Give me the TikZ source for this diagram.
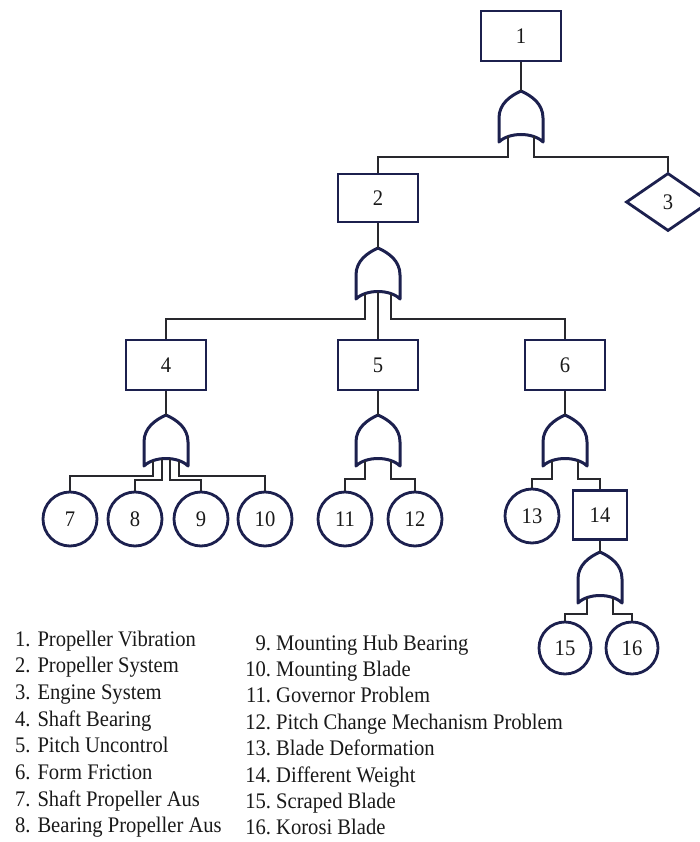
\documentclass[tikz,border=0pt]{standalone}
\usepackage{fontspec}
\setmainfont{Liberation Serif}
\usetikzlibrary{shapes.geometric}
\definecolor{navy}{RGB}{28,32,78}
\definecolor{conncol}{RGB}{40,40,45}
\definecolor{txt}{RGB}{25,25,25}
\newcommand{\tall}[1]{\scalebox{1}[1.08]{#1}}
\begin{document}
\begin{tikzpicture}[x=1pt,y=-1pt,
  lab/.style={font=\fontsize{20.6}{24}\selectfont, text=txt},
  box/.style={lab, draw=navy, line width=2.8pt, minimum width=80pt, minimum height=50pt, inner sep=0pt},
  evt/.style={lab, draw=navy, line width=2.8pt, circle, minimum size=54pt, inner sep=0pt},
  dia/.style={lab, draw=navy, line width=2.8pt, diamond, minimum width=84pt, minimum height=58pt, inner sep=0pt},
  conn/.style={draw=conncol, line width=2pt},
  legend/.style={lab, anchor=base west, inner sep=0pt},
  orgate/.pic={
    \draw[draw=navy, line width=3pt, line join=round]
      (-22,51) -- (-22,27) .. controls (-22,13) and (-11,5) .. (0,0)
      .. controls (11,5) and (22,13) .. (22,27) -- (22,51)
      .. controls (12,41) and (-12,41) .. (-22,51) -- cycle;
    \coordinate (-top) at (0,0);
    \coordinate (-a) at (-13,45.5);
    \coordinate (-d) at (-4,43.8);
    \coordinate (-c) at (0,43.5);
    \coordinate (-e) at (4,43.8);
    \coordinate (-b) at (13,45.5);
  }]
\useasboundingbox (0,0) rectangle (700,842);

% events
\node[box] (b1) at (521,36) {\tall{1}};
\node[box, minimum height=48pt] (b2) at (378,198) {\tall{2}};
\node[dia] (d3) at (668,202) {\tall{3}};
\node[box] (b4) at (166,365) {\tall{4}};
\node[box] (b5) at (378,365) {\tall{5}};
\node[box] (b6) at (565,365) {\tall{6}};
\node[evt] (c7) at (70,519) {\tall{7}};
\node[evt] (c8) at (135,519) {\tall{8}};
\node[evt] (c9) at (201,519) {\tall{9}};
\node[evt] (c10) at (265,519) {\tall{10}};
\node[evt] (c11) at (345,519) {\tall{11}};
\node[evt] (c12) at (415,519) {\tall{12}};
\node[evt] (c13) at (532,516) {\tall{13}};
\node[box, minimum width=54pt, minimum height=49pt] (b14) at (600,515) {\tall{14}};
\node[evt, minimum size=52pt] (c15) at (565,648) {\tall{15}};
\node[evt, minimum size=52pt] (c16) at (632,648) {\tall{16}};

% gates
\pic (g1) at (521,91) {orgate};
\pic (g2) at (378,248) {orgate};
\pic (g4) at (166,415) {orgate};
\pic (g5) at (378,415) {orgate};
\pic (g6) at (565,415) {orgate};
\pic (g14) at (600,552) {orgate};

% connectors
\draw[conn] (b1.south) -- (g1-top);
\draw[conn] (g1-a) -- ++(0,20.5) -| (b2.north);
\draw[conn] (g1-b) -- ++(0,20.5) -| (d3.north);

\draw[conn] (b2.south) -- (g2-top);
\draw[conn] (g2-a) -- ++(0,25.5) -| (b4.north);
\draw[conn] (g2-c) -- (b5.north);
\draw[conn] (g2-b) -- ++(0,25.5) -| (b6.north);

\draw[conn] (b4.south) -- (g4-top);
\draw[conn] (g4-a) -- ++(0,15.5) -| (c7.north);
\draw[conn] (g4-d) -- ++(0,21.2) -| (c8.north);
\draw[conn] (g4-e) -- ++(0,21.2) -| (c9.north);
\draw[conn] (g4-b) -- ++(0,15.5) -| (c10.north);

\draw[conn] (b5.south) -- (g5-top);
\draw[conn] (g5-a) -- ++(0,18.5) -| (c11.north);
\draw[conn] (g5-b) -- ++(0,18.5) -| (c12.north);

\draw[conn] (b6.south) -- (g6-top);
\draw[conn] (g6-a) -- ++(0,18.5) -| (c13.north);
\draw[conn] (g6-b) -- ++(0,18.5) -| (b14.north);

\draw[conn] (b14.south) -- (g14-top);
\draw[conn] (g14-a) -- ++(0,16.5) -| (c15.north);
\draw[conn] (g14-b) -- ++(0,16.5) -| (c16.north);

% legend
\node[legend] (l1) at (15,646) {\tall{1. Propeller Vibration}};
\node[legend] (l2) at (15,672.7) {\tall{2. Propeller System}};
\node[legend] (l3) at (15,699.4) {\tall{3. Engine System}};
\node[legend] (l4) at (15,726.1) {\tall{4. Shaft Bearing}};
\node[legend] (l5) at (15,752.8) {\tall{5. Pitch Uncontrol}};
\node[legend] (l6) at (15,779.5) {\tall{6. Form Friction}};
\node[legend] (l7) at (15,806.2) {\tall{7. Shaft Propeller Aus}};
\node[legend] (l8) at (15,832.9) {\tall{8. Bearing Propeller Aus}};
\node[legend] (l9) at (276,650) {\tall{\llap{9.\ }Mounting Hub Bearing}};
\node[legend] (l10) at (276,676.4) {\tall{\llap{10.\ }Mounting Blade}};
\node[legend] (l11) at (276,702.8) {\tall{\llap{11.\ }Governor Problem}};
\node[legend] (l12) at (276,729.2) {\tall{\llap{12.\ }Pitch Change Mechanism Problem}};
\node[legend] (l13) at (276,755.6) {\tall{\llap{13.\ }Blade Deformation}};
\node[legend] (l14) at (276,782) {\tall{\llap{14.\ }Different Weight}};
\node[legend] (l15) at (276,808.4) {\tall{\llap{15.\ }Scraped Blade}};
\node[legend] (l16) at (276,834.8) {\tall{\llap{16.\ }Korosi Blade}};
\end{tikzpicture}
\end{document}
